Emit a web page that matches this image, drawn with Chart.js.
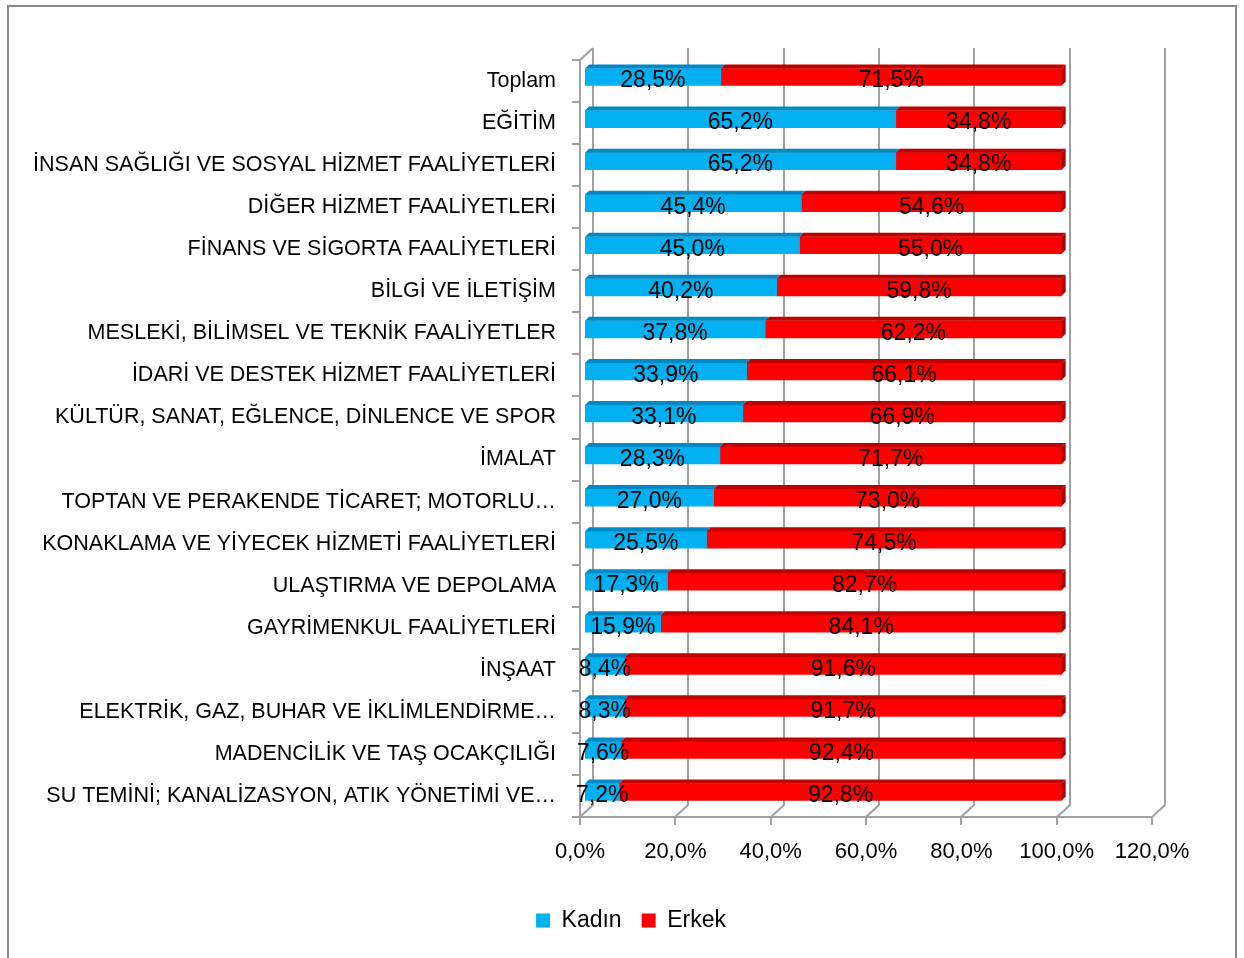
<!DOCTYPE html>
<html>
<head>
<meta charset="utf-8">
<script src="https://cdn.jsdelivr.net/npm/chart.js@4.4.1/dist/chart.umd.min.js"></script>
<style>
  html, body { margin: 0; padding: 0; background: #fff; }
  #wrap { position: relative; width: 1244px; height: 958px; }
</style>
</head>
<body>
<div id="wrap"><canvas id="chart" width="1244" height="958"></canvas></div>
<script>
// data
const categories = [
  'Toplam',
  'EĞİTİM',
  'İNSAN SAĞLIĞI VE SOSYAL HİZMET FAALİYETLERİ',
  'DİĞER HİZMET FAALİYETLERİ',
  'FİNANS VE SİGORTA FAALİYETLERİ',
  'BİLGİ VE İLETİŞİM',
  'MESLEKİ, BİLİMSEL VE TEKNİK FAALİYETLER',
  'İDARİ VE DESTEK HİZMET FAALİYETLERİ',
  'KÜLTÜR, SANAT, EĞLENCE, DİNLENCE VE SPOR',
  'İMALAT',
  'TOPTAN VE PERAKENDE TİCARET; MOTORLU…',
  'KONAKLAMA VE YİYECEK HİZMETİ FAALİYETLERİ',
  'ULAŞTIRMA VE DEPOLAMA',
  'GAYRİMENKUL FAALİYETLERİ',
  'İNŞAAT',
  'ELEKTRİK, GAZ, BUHAR VE İKLİMLENDİRME…',
  'MADENCİLİK VE TAŞ OCAKÇILIĞI',
  'SU TEMİNİ; KANALİZASYON, ATIK YÖNETİMİ VE…'
];
const kadin = [28.5, 65.2, 65.2, 45.4, 45.0, 40.2, 37.8, 33.9, 33.1, 28.3, 27.0, 25.5, 17.3, 15.9, 8.4, 8.3, 7.6, 7.2];
const erkek = [71.5, 34.8, 34.8, 54.6, 55.0, 59.8, 62.2, 66.1, 66.9, 71.7, 73.0, 74.5, 82.7, 84.1, 91.6, 91.7, 92.4, 92.8];
const xTicks = [0, 20, 40, 60, 80, 100, 120];

const FONT = 'Liberation Sans';
const fmt = v => v.toFixed(1).replace('.', ',') + '%';

// depth of the back wall and of the bars
const WALL_DX = 13, WALL_DY = -12;
const BAR_DX = 5, BAR_DY = -4, BAR_D = 4;
const topColors = ['#0089c4', '#c00000'];
const sideColors = ['#0089c4', '#b00000'];

const framePlugin = {
  id: 'frame',
  beforeDraw(chart) {
    const ctx = chart.ctx;
    ctx.save();
    ctx.strokeStyle = '#888';
    ctx.lineWidth = 2;
    ctx.strokeRect(8, 6, 1228, 1000);
    ctx.restore();
  }
};

const wallPlugin = {
  id: 'wall3d',
  beforeDatasetsDraw(chart) {
    const ctx = chart.ctx;
    const xs = chart.scales.x;
    const { top, bottom, left } = chart.chartArea;
    ctx.save();
    ctx.strokeStyle = '#a0a0a0';
    ctx.lineWidth = 2;
    ctx.beginPath();
    xTicks.forEach(v => {
      const x = Math.round(xs.getPixelForValue(v));
      // back wall line, floor diagonal, tick
      ctx.moveTo(x + WALL_DX, top + WALL_DY);
      ctx.lineTo(x + WALL_DX, bottom + WALL_DY);
      ctx.lineTo(x, bottom);
      ctx.lineTo(x, bottom + 8);
    });
    // front floor edge
    ctx.moveTo(left, bottom);
    ctx.lineTo(xs.getPixelForValue(120), bottom);
    // side wall
    ctx.moveTo(left, bottom);
    ctx.lineTo(left, top);
    ctx.lineTo(left + WALL_DX, top + WALL_DY);
    // category ticks
    const step = (bottom - top) / categories.length;
    for (let i = 0; i <= categories.length; i++) {
      const y = Math.round(top + i * step);
      ctx.moveTo(left - 8, y);
      ctx.lineTo(left, y);
    }
    ctx.stroke();
    ctx.restore();

    ctx.save();
    ctx.translate(BAR_DX, BAR_DY);
  },
  afterDatasetsDraw(chart) {
    const ctx = chart.ctx;
    const last = chart.data.datasets.length - 1;
    // top and side faces
    chart.data.datasets.forEach((ds, di) => {
      chart.getDatasetMeta(di).data.forEach(bar => {
        const x0 = Math.min(bar.base, bar.x), x1 = Math.max(bar.base, bar.x);
        const t = bar.y - bar.height / 2, b = bar.y + bar.height / 2;
        ctx.fillStyle = topColors[di];
        ctx.beginPath();
        ctx.moveTo(x0, t);
        ctx.lineTo(x1, t);
        ctx.lineTo(x1 + BAR_D, t - BAR_D);
        ctx.lineTo(x0 + BAR_D, t - BAR_D);
        ctx.closePath();
        ctx.fill();
        if (di === last) {
          ctx.fillStyle = sideColors[di];
          ctx.beginPath();
          ctx.moveTo(x1, t);
          ctx.lineTo(x1 + BAR_D, t - BAR_D);
          ctx.lineTo(x1 + BAR_D, b - BAR_D);
          ctx.lineTo(x1, b);
          ctx.closePath();
          ctx.fill();
        }
      });
    });
    // value labels
    ctx.fillStyle = '#000';
    ctx.font = '23px "' + FONT + '"';
    ctx.textAlign = 'center';
    ctx.textBaseline = 'middle';
    chart.data.datasets.forEach((ds, di) => {
      chart.getDatasetMeta(di).data.forEach((bar, i) => {
        ctx.fillText(fmt(ds.data[i]), (bar.x + bar.base) / 2, bar.y + 4);
      });
    });
    ctx.restore();
  }
};

new Chart(document.getElementById('chart'), {
  type: 'bar',
  data: {
    labels: categories,
    datasets: [
      { label: 'Kadın', data: kadin, backgroundColor: '#00b0f0', barThickness: 17 },
      { label: 'Erkek', data: erkek, backgroundColor: '#ff0000', barThickness: 17 }
    ]
  },
  options: {
    indexAxis: 'y',
    responsive: false,
    animation: false,
    events: [],
    layout: { padding: { top: 60, right: 0, bottom: 16, left: 18 } },
    scales: {
      x: {
        stacked: true,
        min: 0,
        max: 120,
        afterBuildTicks(scale) { scale.ticks = xTicks.map(v => ({ value: v })); },
        afterFit(scale) { scale.height = 72; scale.paddingRight = 92; },
        grid: { display: false },
        border: { display: false },
        ticks: {
          padding: 14,
          color: '#000',
          font: { family: FONT, size: 22 },
          maxRotation: 0,
          callback: v => fmt(v)
        }
      },
      y: {
        stacked: true,
        afterFit(scale) { scale.width = 562; },
        grid: { display: false },
        border: { display: false },
        ticks: {
          padding: 16,
          color: '#000',
          autoSkip: false,
          font: { family: FONT, size: 21.5 }
        }
      }
    },
    plugins: {
      tooltip: { enabled: false },
      legend: {
        position: 'bottom',
        labels: {
          color: '#000',
          font: { family: FONT, size: 23 },
          boxWidth: 14,
          boxHeight: 14,
          padding: 20
        }
      }
    }
  },
  plugins: [framePlugin, wallPlugin]
});
</script>
</body>
</html>
